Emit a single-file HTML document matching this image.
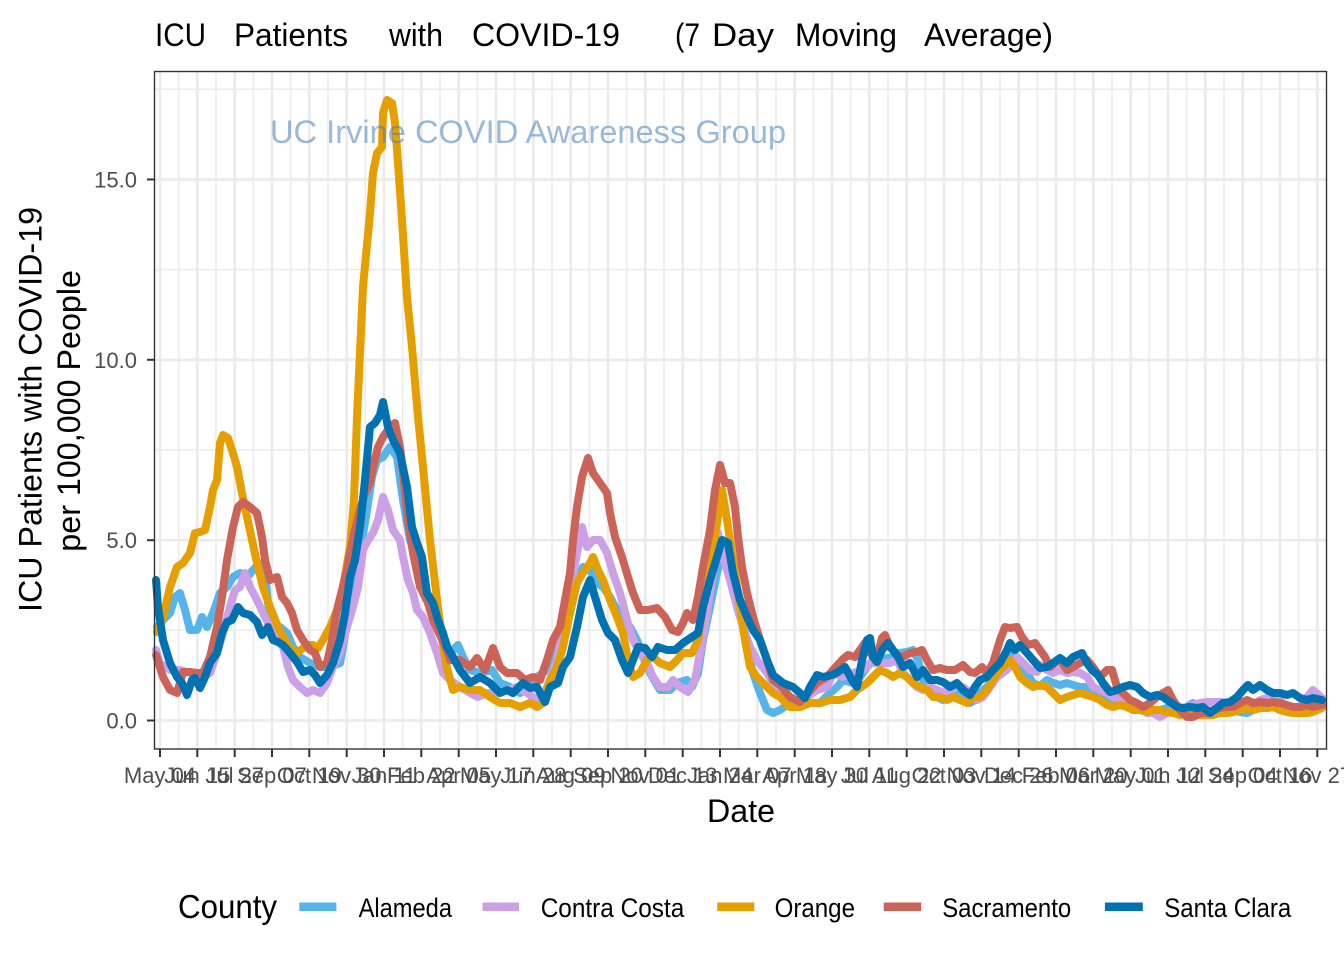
<!DOCTYPE html>
<html>
<head>
<meta charset="utf-8">
<style>
html,body{margin:0;padding:0;background:#fff;}
svg{display:block;}
text{font-family:"Liberation Sans",Arial,sans-serif;}
</style>
</head>
<body>
<svg width="1344" height="960" viewBox="0 0 1344 960" xmlns="http://www.w3.org/2000/svg">
<rect x="0" y="0" width="1344" height="960" fill="#fff"/>

<!-- Title -->
<g font-size="32" fill="#000">
<text x="155" y="46" textLength="51" lengthAdjust="spacingAndGlyphs">ICU</text>
<text x="234" y="46" textLength="114" lengthAdjust="spacingAndGlyphs">Patients</text>
<text x="389" y="46" textLength="54" lengthAdjust="spacingAndGlyphs">with</text>
<text x="472" y="46" textLength="148" lengthAdjust="spacingAndGlyphs">COVID-19</text>
<text x="675" y="46" textLength="25" lengthAdjust="spacingAndGlyphs">(7</text>
<text x="712" y="46" textLength="62" lengthAdjust="spacingAndGlyphs">Day</text>
<text x="795" y="46" textLength="102" lengthAdjust="spacingAndGlyphs">Moving</text>
<text x="924" y="46" textLength="129" lengthAdjust="spacingAndGlyphs">Average)</text>
</g>

<!-- Panel background -->
<rect x="154.5" y="71.5" width="1172" height="677.5" fill="#fff"/>

<!-- Minor grid -->
<g stroke="#EBEBEB" stroke-width="1.5">
<line x1="154.5" x2="1326.5" y1="630.3" y2="630.3"/>
<line x1="154.5" x2="1326.5" y1="450.0" y2="450.0"/>
<line x1="154.5" x2="1326.5" y1="269.6" y2="269.6"/>
<line x1="154.5" x2="1326.5" y1="89.3" y2="89.3"/>
<line y1="71.5" y2="749" x1="178.7" x2="178.7"/>
<line y1="71.5" y2="749" x1="216.0" x2="216.0"/>
<line y1="71.5" y2="749" x1="253.3" x2="253.3"/>
<line y1="71.5" y2="749" x1="290.7" x2="290.7"/>
<line y1="71.5" y2="749" x1="328.0" x2="328.0"/>
<line y1="71.5" y2="749" x1="365.3" x2="365.3"/>
<line y1="71.5" y2="749" x1="402.7" x2="402.7"/>
<line y1="71.5" y2="749" x1="440.0" x2="440.0"/>
<line y1="71.5" y2="749" x1="477.3" x2="477.3"/>
<line y1="71.5" y2="749" x1="514.7" x2="514.7"/>
<line y1="71.5" y2="749" x1="552.0" x2="552.0"/>
<line y1="71.5" y2="749" x1="589.3" x2="589.3"/>
<line y1="71.5" y2="749" x1="626.7" x2="626.7"/>
<line y1="71.5" y2="749" x1="664.0" x2="664.0"/>
<line y1="71.5" y2="749" x1="701.3" x2="701.3"/>
<line y1="71.5" y2="749" x1="738.7" x2="738.7"/>
<line y1="71.5" y2="749" x1="776.0" x2="776.0"/>
<line y1="71.5" y2="749" x1="813.3" x2="813.3"/>
<line y1="71.5" y2="749" x1="850.7" x2="850.7"/>
<line y1="71.5" y2="749" x1="888.0" x2="888.0"/>
<line y1="71.5" y2="749" x1="925.3" x2="925.3"/>
<line y1="71.5" y2="749" x1="962.7" x2="962.7"/>
<line y1="71.5" y2="749" x1="1000.0" x2="1000.0"/>
<line y1="71.5" y2="749" x1="1037.3" x2="1037.3"/>
<line y1="71.5" y2="749" x1="1074.7" x2="1074.7"/>
<line y1="71.5" y2="749" x1="1112.0" x2="1112.0"/>
<line y1="71.5" y2="749" x1="1149.3" x2="1149.3"/>
<line y1="71.5" y2="749" x1="1186.7" x2="1186.7"/>
<line y1="71.5" y2="749" x1="1224.0" x2="1224.0"/>
<line y1="71.5" y2="749" x1="1261.3" x2="1261.3"/>
<line y1="71.5" y2="749" x1="1298.7" x2="1298.7"/>
</g>
<!-- Major grid -->
<g stroke="#EBEBEB" stroke-width="2.7">
<line x1="154.5" x2="1326.5" y1="720.5" y2="720.5"/>
<line x1="154.5" x2="1326.5" y1="540.2" y2="540.2"/>
<line x1="154.5" x2="1326.5" y1="359.8" y2="359.8"/>
<line x1="154.5" x2="1326.5" y1="179.5" y2="179.5"/>
<line y1="71.5" y2="749" x1="160.0" x2="160.0"/>
<line y1="71.5" y2="749" x1="197.3" x2="197.3"/>
<line y1="71.5" y2="749" x1="234.7" x2="234.7"/>
<line y1="71.5" y2="749" x1="272.0" x2="272.0"/>
<line y1="71.5" y2="749" x1="309.3" x2="309.3"/>
<line y1="71.5" y2="749" x1="346.7" x2="346.7"/>
<line y1="71.5" y2="749" x1="384.0" x2="384.0"/>
<line y1="71.5" y2="749" x1="421.3" x2="421.3"/>
<line y1="71.5" y2="749" x1="458.7" x2="458.7"/>
<line y1="71.5" y2="749" x1="496.0" x2="496.0"/>
<line y1="71.5" y2="749" x1="533.3" x2="533.3"/>
<line y1="71.5" y2="749" x1="570.7" x2="570.7"/>
<line y1="71.5" y2="749" x1="608.0" x2="608.0"/>
<line y1="71.5" y2="749" x1="645.3" x2="645.3"/>
<line y1="71.5" y2="749" x1="682.7" x2="682.7"/>
<line y1="71.5" y2="749" x1="720.0" x2="720.0"/>
<line y1="71.5" y2="749" x1="757.3" x2="757.3"/>
<line y1="71.5" y2="749" x1="794.7" x2="794.7"/>
<line y1="71.5" y2="749" x1="832.0" x2="832.0"/>
<line y1="71.5" y2="749" x1="869.3" x2="869.3"/>
<line y1="71.5" y2="749" x1="906.7" x2="906.7"/>
<line y1="71.5" y2="749" x1="944.0" x2="944.0"/>
<line y1="71.5" y2="749" x1="981.3" x2="981.3"/>
<line y1="71.5" y2="749" x1="1018.7" x2="1018.7"/>
<line y1="71.5" y2="749" x1="1056.0" x2="1056.0"/>
<line y1="71.5" y2="749" x1="1093.3" x2="1093.3"/>
<line y1="71.5" y2="749" x1="1130.7" x2="1130.7"/>
<line y1="71.5" y2="749" x1="1168.0" x2="1168.0"/>
<line y1="71.5" y2="749" x1="1205.3" x2="1205.3"/>
<line y1="71.5" y2="749" x1="1242.7" x2="1242.7"/>
<line y1="71.5" y2="749" x1="1280.0" x2="1280.0"/>
<line y1="71.5" y2="749" x1="1317.3" x2="1317.3"/>
</g>

<!-- Series -->
<g fill="none" stroke-width="8" stroke-linejoin="round" stroke-linecap="round">
<!-- Alameda -->
<polyline stroke="#56B4E9" points="157,627 163,620 170,613 175,597 180,593 185,610 190,630 197,630 202,617 207,627 213,613 220,593 227,587 233,577 240,573 247,577 253,570 260,563 265,573 268,603 273,627 280,627 287,633 293,647 300,657 310,663 320,667 330,667 340,663 343,647 348,617 353,587 360,553 367,510 372,477 377,460 383,457 390,447 397,457 403,500 410,540 417,560 423,593 430,607 437,617 443,635 450,653 458,645 463,657 470,670 480,673 492,670 500,683 510,687 520,693 530,683 537,677 543,673 550,667 557,653 563,627 570,600 577,580 583,567 590,570 597,583 603,587 610,597 617,610 623,620 630,627 637,640 643,657 650,673 660,690 670,690 677,683 687,680 692,687 698,673 703,640 710,607 717,573 722,553 727,550 733,580 740,613 747,647 753,673 760,693 767,710 773,713 780,710 790,703 800,700 810,703 820,703 830,693 837,687 843,680 853,683 860,677 867,667 873,660 880,662 887,658 893,657 900,653 907,652 913,650 918,660 923,680 930,690 937,697 943,700 950,697 957,693 963,693 970,703 975,700 980,693 987,687 993,680 1000,667 1007,660 1013,653 1020,667 1027,673 1033,683 1040,686 1047,680 1053,683 1060,685 1067,683 1073,685 1080,687 1087,687 1093,690 1100,693 1107,697 1113,700 1120,700 1127,703 1133,705 1140,707 1147,710 1153,710 1160,710 1167,708 1173,710 1180,712 1187,707 1193,703 1200,707 1207,710 1213,712 1220,710 1227,708 1233,710 1240,712 1247,713 1253,710 1260,708 1267,708 1273,707 1280,708 1287,710 1293,708 1300,707 1307,707 1313,705 1322,703"/>
<!-- Contra Costa -->
<polyline stroke="#CBA0E6" points="156,650 160,663 170,670 180,670 190,673 200,677 210,673 217,653 223,633 230,607 235,590 240,587 245,573 250,587 257,600 263,613 270,627 277,637 283,647 288,667 293,680 300,687 307,693 313,690 320,693 327,683 333,667 340,653 347,627 353,607 358,587 363,550 368,540 373,533 378,520 383,497 388,510 393,530 400,540 403,557 408,580 413,593 417,610 423,617 430,633 437,653 443,673 450,680 460,687 470,693 478,697 487,693 497,693 507,690 517,687 527,693 537,700 543,697 550,680 557,660 563,630 570,593 577,553 582,527 587,547 593,540 600,540 607,553 613,573 620,593 627,620 633,640 640,653 647,663 653,677 660,687 668,687 673,680 680,687 688,692 695,680 700,653 707,613 713,573 718,533 723,557 730,580 737,607 743,627 750,647 757,660 767,673 773,683 780,690 790,700 797,700 807,697 817,690 827,687 833,673 843,677 853,673 863,670 870,663 880,663 890,663 897,660 903,673 910,680 917,687 923,690 930,687 937,690 943,693 950,690 957,687 963,687 970,693 977,700 983,697 990,687 997,677 1003,673 1010,667 1017,657 1023,663 1030,670 1037,672 1040,665 1047,670 1053,673 1060,670 1067,673 1073,672 1080,673 1087,677 1093,687 1100,690 1107,693 1113,697 1120,698 1127,700 1133,703 1140,707 1147,713 1153,713 1160,717 1167,713 1173,710 1180,710 1187,708 1193,705 1200,703 1207,702 1213,702 1220,702 1227,703 1233,703 1240,707 1247,705 1253,707 1260,700 1267,698 1273,697 1280,700 1287,710 1293,708 1300,707 1307,697 1313,690 1322,698"/>
<!-- Orange -->
<polyline stroke="#E69F00" points="157,632 163,617 170,587 177,567 183,563 190,553 195,533 200,532 205,530 210,507 213,490 217,480 220,443 223,435 228,438 232,450 237,467 242,493 247,517 252,540 257,563 263,587 270,607 278,627 285,640 290,648 297,653 307,645 313,645 318,648 323,640 330,627 337,610 343,587 350,547 354,500 357,417 363,287 370,213 373,173 377,153 382,147 383,113 387,100 392,103 395,123 398,163 402,220 407,297 412,347 418,417 423,467 430,540 437,600 443,645 447,668 453,690 460,687 470,690 480,690 490,697 500,703 510,703 520,707 530,703 537,707 543,703 550,680 557,667 563,647 570,613 577,583 583,573 590,563 593,557 598,570 603,580 610,600 617,617 623,633 628,660 633,677 640,673 647,660 653,657 660,663 670,667 677,660 683,653 692,653 698,640 703,607 710,567 717,523 722,490 727,520 730,540 735,573 740,607 745,640 750,667 757,677 763,683 773,693 780,697 790,707 800,707 810,703 820,703 830,700 840,700 850,697 857,690 867,683 873,677 880,670 887,673 893,677 900,673 907,677 913,683 920,687 927,690 933,697 940,697 947,700 953,697 960,700 967,703 973,697 980,697 987,690 993,680 1000,670 1007,663 1010,660 1015,667 1020,677 1027,683 1033,687 1040,685 1047,687 1053,693 1060,700 1067,697 1073,695 1080,693 1087,695 1093,697 1100,700 1107,705 1113,707 1120,705 1127,707 1133,710 1140,710 1147,712 1153,710 1160,710 1167,712 1173,713 1180,715 1187,713 1193,715 1200,715 1207,715 1213,715 1220,713 1227,713 1233,712 1240,710 1247,708 1253,710 1260,708 1267,708 1273,707 1280,710 1287,712 1293,713 1300,713 1307,713 1313,712 1322,708"/>
<!-- Sacramento -->
<polyline stroke="#CC6359" points="156,655 163,677 170,690 177,693 183,672 190,672 197,673 203,673 210,657 217,627 222,597 227,560 233,527 238,507 243,502 250,507 257,513 262,537 265,560 270,580 277,577 282,597 287,603 292,613 297,630 303,640 310,650 315,653 320,667 327,663 332,640 337,610 342,590 347,570 350,553 355,530 360,510 365,493 370,483 373,467 378,447 383,437 388,430 395,423 400,447 403,473 408,520 413,553 420,587 427,600 433,620 440,635 447,650 450,660 460,660 470,667 477,658 485,670 493,648 500,667 507,673 517,673 525,680 533,677 540,680 547,660 553,640 560,627 565,600 570,573 573,540 577,507 582,477 588,458 593,473 600,483 607,493 610,513 615,537 622,557 628,577 633,593 640,610 648,610 657,608 665,617 672,630 678,632 683,623 687,613 693,620 698,597 703,567 710,530 715,490 720,465 725,483 730,483 735,507 738,537 742,567 747,593 753,617 760,640 767,660 773,680 780,685 790,697 800,702 808,693 817,683 827,677 833,670 842,660 848,655 855,657 860,650 865,643 870,653 877,657 882,638 885,635 890,647 897,655 903,657 910,653 917,652 922,650 927,660 933,670 940,668 947,670 955,670 963,665 970,672 975,673 982,667 987,673 993,663 1000,640 1005,627 1010,628 1017,627 1022,637 1028,645 1035,643 1040,650 1045,657 1050,667 1055,663 1060,660 1067,670 1073,667 1080,663 1087,660 1093,667 1100,677 1107,670 1112,670 1117,687 1123,693 1130,700 1137,703 1143,707 1150,703 1157,697 1163,693 1168,690 1173,700 1180,710 1187,717 1193,717 1200,713 1207,713 1213,710 1220,708 1227,707 1233,707 1240,703 1247,700 1253,703 1260,702 1267,703 1273,702 1280,703 1287,705 1293,707 1300,707 1307,705 1313,707 1322,705"/>
<!-- Santa Clara -->
<polyline stroke="#0072B2" points="156,580 158,607 163,640 170,663 177,677 182,683 187,695 192,680 195,678 200,688 205,677 210,663 217,653 222,633 227,622 232,620 238,607 243,613 250,615 257,622 262,635 268,627 273,640 278,642 283,645 290,653 297,662 303,672 310,670 315,675 320,683 327,675 333,663 340,640 345,613 350,577 355,560 360,527 365,480 370,427 375,423 380,415 383,402 388,427 393,440 400,453 407,487 412,527 417,543 422,557 427,593 433,603 438,620 443,633 447,647 453,657 460,670 470,683 480,677 490,683 500,693 507,690 513,693 523,683 530,688 537,687 545,702 550,687 558,683 563,667 570,657 577,627 583,597 590,580 595,597 602,620 608,633 615,640 622,660 628,673 633,660 638,647 645,648 652,657 658,647 667,650 675,650 683,643 692,637 698,633 703,607 710,580 717,557 722,540 728,543 733,573 740,600 747,617 753,630 760,640 767,660 773,675 783,683 793,687 800,693 805,698 810,687 817,675 823,677 832,675 838,672 845,667 852,680 857,687 862,660 867,640 870,638 873,657 877,662 882,650 888,643 893,650 898,657 903,667 910,663 917,677 923,670 930,680 937,680 943,682 950,687 957,683 963,690 970,695 975,687 980,680 987,677 993,670 1000,663 1007,650 1010,643 1015,650 1020,645 1027,653 1033,660 1040,668 1047,667 1053,663 1060,658 1067,663 1073,657 1082,653 1087,663 1092,670 1098,675 1103,683 1110,692 1117,690 1123,687 1130,685 1137,687 1143,693 1150,697 1157,695 1163,697 1170,702 1177,707 1183,708 1190,707 1197,708 1203,707 1210,713 1217,708 1223,703 1230,702 1237,697 1243,690 1248,685 1253,690 1260,685 1267,690 1273,693 1280,693 1287,695 1293,693 1300,698 1307,700 1313,698 1322,700"/>
</g>

<!-- Watermark -->
<text x="270" y="143" font-size="32" fill="rgb(70,130,180)" fill-opacity="0.55" textLength="516" lengthAdjust="spacingAndGlyphs">UC Irvine COVID Awareness Group</text>

<!-- Panel border -->
<rect x="154.5" y="71.5" width="1172" height="677.5" fill="none" stroke="#333333" stroke-width="1.4"/>

<!-- Y ticks -->
<g stroke="#333333" stroke-width="2">
<line x1="147" x2="154.5" y1="720.5" y2="720.5"/>
<line x1="147" x2="154.5" y1="540.2" y2="540.2"/>
<line x1="147" x2="154.5" y1="359.8" y2="359.8"/>
<line x1="147" x2="154.5" y1="179.5" y2="179.5"/>
</g>
<g font-size="22" fill="#4D4D4D" text-anchor="end">
<text x="137" y="728.5">0.0</text>
<text x="137" y="548.2">5.0</text>
<text x="137" y="367.8">10.0</text>
<text x="137" y="187.5">15.0</text>
</g>

<!-- X ticks -->
<g stroke="#333333" stroke-width="2">
<line y1="749" y2="757" x1="160.0" x2="160.0"/>
<line y1="749" y2="757" x1="197.3" x2="197.3"/>
<line y1="749" y2="757" x1="234.7" x2="234.7"/>
<line y1="749" y2="757" x1="272.0" x2="272.0"/>
<line y1="749" y2="757" x1="309.3" x2="309.3"/>
<line y1="749" y2="757" x1="346.7" x2="346.7"/>
<line y1="749" y2="757" x1="384.0" x2="384.0"/>
<line y1="749" y2="757" x1="421.3" x2="421.3"/>
<line y1="749" y2="757" x1="458.7" x2="458.7"/>
<line y1="749" y2="757" x1="496.0" x2="496.0"/>
<line y1="749" y2="757" x1="533.3" x2="533.3"/>
<line y1="749" y2="757" x1="570.7" x2="570.7"/>
<line y1="749" y2="757" x1="608.0" x2="608.0"/>
<line y1="749" y2="757" x1="645.3" x2="645.3"/>
<line y1="749" y2="757" x1="682.7" x2="682.7"/>
<line y1="749" y2="757" x1="720.0" x2="720.0"/>
<line y1="749" y2="757" x1="757.3" x2="757.3"/>
<line y1="749" y2="757" x1="794.7" x2="794.7"/>
<line y1="749" y2="757" x1="832.0" x2="832.0"/>
<line y1="749" y2="757" x1="869.3" x2="869.3"/>
<line y1="749" y2="757" x1="906.7" x2="906.7"/>
<line y1="749" y2="757" x1="944.0" x2="944.0"/>
<line y1="749" y2="757" x1="981.3" x2="981.3"/>
<line y1="749" y2="757" x1="1018.7" x2="1018.7"/>
<line y1="749" y2="757" x1="1056.0" x2="1056.0"/>
<line y1="749" y2="757" x1="1093.3" x2="1093.3"/>
<line y1="749" y2="757" x1="1130.7" x2="1130.7"/>
<line y1="749" y2="757" x1="1168.0" x2="1168.0"/>
<line y1="749" y2="757" x1="1205.3" x2="1205.3"/>
<line y1="749" y2="757" x1="1242.7" x2="1242.7"/>
<line y1="749" y2="757" x1="1280.0" x2="1280.0"/>
<line y1="749" y2="757" x1="1317.3" x2="1317.3"/>
</g>
<g font-size="22" fill="#4D4D4D" text-anchor="middle">
<text x="160.0" y="783">May 04</text>
<text x="197.3" y="783">Jun 15</text>
<text x="234.7" y="783">Jul 27</text>
<text x="272.0" y="783">Sep 07</text>
<text x="309.3" y="783">Oct 19</text>
<text x="346.7" y="783">Nov 30</text>
<text x="384.0" y="783">Jan 11</text>
<text x="421.3" y="783">Feb 22</text>
<text x="458.7" y="783">Apr 05</text>
<text x="496.0" y="783">May 17</text>
<text x="533.3" y="783">Jun 28</text>
<text x="570.7" y="783">Aug 09</text>
<text x="608.0" y="783">Sep 20</text>
<text x="645.3" y="783">Nov 01</text>
<text x="682.7" y="783">Dec 13</text>
<text x="720.0" y="783">Jan 24</text>
<text x="757.3" y="783">Mar 07</text>
<text x="794.7" y="783">Apr 18</text>
<text x="832.0" y="783">May 30</text>
<text x="869.3" y="783">Jul 11</text>
<text x="906.7" y="783">Aug 22</text>
<text x="944.0" y="783">Oct 03</text>
<text x="981.3" y="783">Nov 14</text>
<text x="1018.7" y="783">Dec 26</text>
<text x="1056.0" y="783">Feb 06</text>
<text x="1093.3" y="783">Mar 20</text>
<text x="1130.7" y="783">May 01</text>
<text x="1168.0" y="783">Jun 12</text>
<text x="1205.3" y="783">Jul 24</text>
<text x="1242.7" y="783">Sep 04</text>
<text x="1280.0" y="783">Oct 16</text>
<text x="1317.3" y="783">Nov 27</text>
</g>

<!-- Axis titles -->
<text x="707" y="822" font-size="32" fill="#000" textLength="68" lengthAdjust="spacingAndGlyphs">Date</text>
<text transform="translate(41.7,612) rotate(-90)" x="0" y="0" font-size="32" fill="#000" textLength="405" lengthAdjust="spacingAndGlyphs">ICU Patients with COVID-19</text>
<text transform="translate(80,551.7) rotate(-90)" x="0" y="0" font-size="32" fill="#000" textLength="281.7" lengthAdjust="spacingAndGlyphs">per 100,000 People</text>

<!-- Legend -->
<text x="178" y="918" font-size="33" fill="#000" textLength="99" lengthAdjust="spacingAndGlyphs">County</text>
<rect x="299.3" y="902.5" width="37.1" height="8.5" fill="#56B4E9"/>
<rect x="482.5" y="902.5" width="36.5" height="8.5" fill="#CBA0E6"/>
<rect x="717.2" y="902.5" width="37.1" height="8.5" fill="#E69F00"/>
<rect x="883.7" y="902.5" width="37.5" height="8.5" fill="#CC6359"/>
<rect x="1104.9" y="902.5" width="37.9" height="8.5" fill="#0072B2"/>
<g font-size="27" fill="#000">
<text x="358.6" y="917" textLength="93.4" lengthAdjust="spacingAndGlyphs">Alameda</text>
<text x="540.7" y="917" textLength="143.6" lengthAdjust="spacingAndGlyphs">Contra Costa</text>
<text x="774.6" y="917" textLength="80.4" lengthAdjust="spacingAndGlyphs">Orange</text>
<text x="942.2" y="917" textLength="129" lengthAdjust="spacingAndGlyphs">Sacramento</text>
<text x="1164.2" y="917" textLength="127.1" lengthAdjust="spacingAndGlyphs">Santa Clara</text>
</g>
</svg>
</body>
</html>
